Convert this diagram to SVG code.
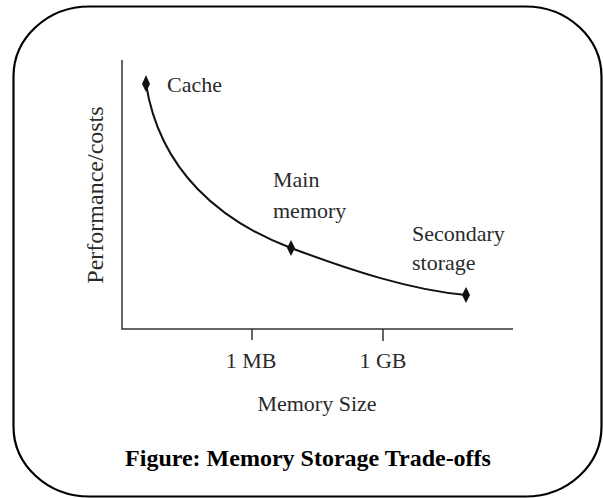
<svg xmlns="http://www.w3.org/2000/svg" width="603" height="498" viewBox="0 0 603 498">
<style>
.lbl{font-family:"Liberation Serif","Times New Roman",serif;font-size:22px;fill:#2a2a2a}
.ax{stroke:#333;stroke-width:1.5;fill:none}
.dia{fill:#111}
.title{font-family:"Liberation Serif","Times New Roman",serif;font-size:24px;font-weight:bold;fill:#000}
</style>
<rect x="0" y="0" width="603" height="498" fill="#fff"/>
<rect id="frame" x="13.5" y="6.5" width="588" height="490" rx="76" ry="70" fill="none" stroke="#000" stroke-width="2.2"/>
<g id="axes">
<path class="ax" d="M122,60 V329 H513"/>
<path class="ax" d="M252,329 V340 M383,329 V341"/>
<text class="lbl" x="251" y="368" text-anchor="middle">1 MB</text>
<text class="lbl" x="383" y="368" text-anchor="middle">1 GB</text>
<text class="lbl" x="317" y="411" text-anchor="middle">Memory Size</text>
<text class="lbl" transform="translate(103,195) rotate(-90)" text-anchor="middle" style="font-size:24px">Performance/costs</text>
</g>
<g id="connectors">
<path d="M146,84 C160,172 222,222 291,248 C350,270 410,290 466,295" fill="none" stroke="#111" stroke-width="2"/>
</g>
<g id="cache">
<polygon class="dia" points="146,75 150,84 146,92 142,84"/>
<text class="lbl" x="167" y="92">Cache</text>
</g>
<g id="main-memory">
<polygon class="dia" points="291,240 295,248 291,256 287,248"/>
<text class="lbl" x="273" y="187">Main</text>
<text class="lbl" x="273" y="218">memory</text>
</g>
<g id="secondary-storage">
<polygon class="dia" points="466,287 470,295 466,303 462,295"/>
<text class="lbl" x="412" y="241">Secondary</text>
<text class="lbl" x="412" y="270">storage</text>
</g>
<text class="title" x="308" y="466" text-anchor="middle">Figure: Memory Storage Trade-offs</text>
</svg>
